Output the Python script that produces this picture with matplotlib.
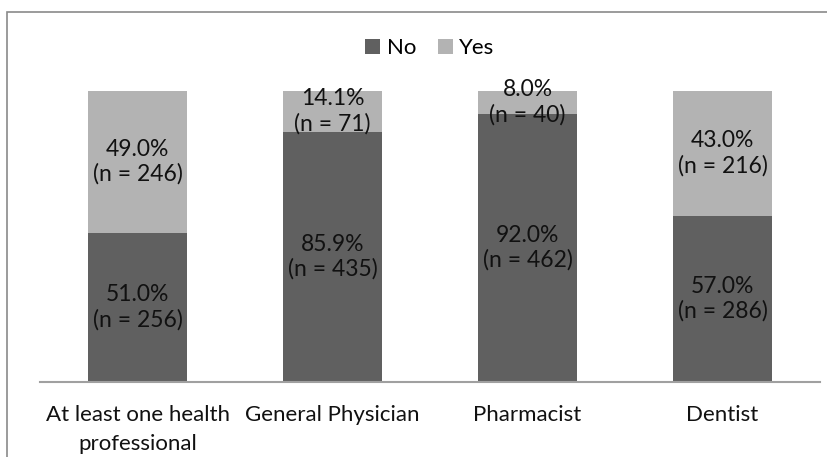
import matplotlib
matplotlib.use("Agg")
import matplotlib.pyplot as plt
import numpy as np
from matplotlib.patches import Rectangle

categories = ["At least one health\nprofessional", "General Physician", "Pharmacist", "Dentist"]
no_pct = [51.0, 85.9, 92.0, 57.0]
yes_pct = [49.0, 14.1, 8.0, 43.0]
no_n = [256, 435, 462, 286]
yes_n = [246, 71, 40, 216]

dark = "#606060"
light = "#b3b3b3"

plt.rcParams['font.family'] = ['Lato', 'DejaVu Sans']

fig = plt.figure(figsize=(8.27, 4.57), dpi=100)
W, H = 827, 457
ax = fig.add_axes([40 / W, (H - 381.5) / H, 780 / W, 290.8 / H])

x = np.arange(len(categories))
ax.bar(x, no_pct, width=0.51, color=dark, label="No")
ax.bar(x, yes_pct, width=0.51, bottom=no_pct, color=light, label="Yes")

fs = 16.5
for i in range(len(categories)):
    ax.text(x[i], no_pct[i] / 2, "%.1f%%\n(n = %d)" % (no_pct[i], no_n[i]),
            ha="center", va="center", fontsize=fs, color="#111111", linespacing=1.2)
    ax.text(x[i], no_pct[i] + yes_pct[i] / 2, "%.1f%%\n(n = %d)" % (yes_pct[i], yes_n[i]),
            ha="center", va="center", fontsize=fs, color="#111111", linespacing=1.2)

ax.set_xlim(-0.5, 3.5)
ax.set_ylim(0, 100)
ax.set_xticks(x)
ax.set_xticklabels(categories, fontsize=16, color="#111111", linespacing=1.55)
ax.tick_params(axis="x", length=0, pad=17)
ax.set_yticks([])
for side in ["left", "right", "top"]:
    ax.spines[side].set_visible(False)
ax.spines["bottom"].set_color("#a0a0a0")
ax.spines["bottom"].set_linewidth(1.5)

ax.legend(loc="center", bbox_to_anchor=(430 / W, (H - 48) / H), bbox_transform=fig.transFigure,
          ncol=2, frameon=False, fontsize=16, handlelength=0.65, handleheight=0.65,
          handletextpad=0.3, columnspacing=1.0)

# outer chart frame (extends past the image edge)
fig.patches.append(Rectangle((7 / W, -0.1), 1.2, (H - 12) / H + 0.1, transform=fig.transFigure,
                             fill=False, edgecolor="#8a8a8a", linewidth=1.2))

fig.savefig("out.png", dpi=100)
